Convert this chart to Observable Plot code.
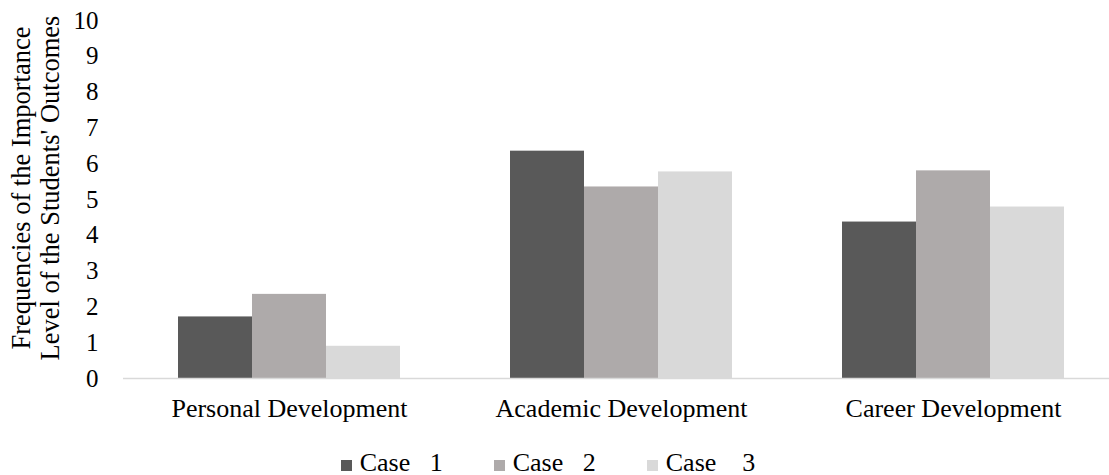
<!DOCTYPE html>
<html>
<head>
<meta charset="utf-8">
<script src="https://cdn.jsdelivr.net/npm/d3@7"></script>
<script src="https://cdn.jsdelivr.net/npm/@observablehq/plot@0.6"></script>
<style>
  html, body { margin: 0; padding: 0; background: #fff; }
  #chart { position: relative; width: 1109px; height: 475px; font-family: "Liberation Serif", "Times New Roman", serif; color: #000; }
  #plot svg, #plot svg text { font-family: "Liberation Serif", "Times New Roman", serif !important; font-size: 25px !important; }
  #plot svg [aria-label="fx-axis tick label"] text { font-size: 26px !important; }
  #ytitle {
    position: absolute; left: 36px; top: 188px; width: 440px;
    transform: translate(-50%, -50%) rotate(-90deg);
    text-align: center; font-size: 26.5px; line-height: 29px; white-space: nowrap;
  }
  #legend {
    position: absolute; top: 449px; left: 0; width: 1096px; padding-right: 13px;
    display: flex; justify-content: center; gap: 51px; font-size: 26px; line-height: 28px;
  }
  #legend .item { display: flex; align-items: center; white-space: pre; }
  #legend .sw { display: inline-block; width: 11px; height: 11px; margin-right: 8px; margin-top: 5px; }
</style>
</head>
<body>
<div id="chart">
  <div id="plot"></div>
  <div id="ytitle"></div>
  <div id="legend"></div>
</div>
<script>
// Outcome areas (groups along the x axis)
const categories = ["Personal Development", "Academic Development", "Career Development"];
// The three cases, one bar each per area
const cases = ["Case 1", "Case 2", "Case 3"];
// Legend wording, as typeset (word, spacing, number)
const caseLegend = ["Case   1", "Case   2", "Case    3"];
// Frequencies per case, in category order
const case1 = [1.72, 6.35, 4.37];
const case2 = [2.35, 5.35, 5.8];
const case3 = [0.9, 5.77, 4.79];
const yTicks = [0, 1, 2, 3, 4, 5, 6, 7, 8, 9, 10];
const yTitleLines = ["Frequencies of the Importance", "Level of the Students' Outcomes"];
const colors = ["#595959", "#aeaaaa", "#d9d9d9"];

const series = [case1, case2, case3];
const rows = [];
categories.forEach((c, i) => {
  cases.forEach((k, j) => rows.push({category: c, case: k, value: series[j][i]}));
});

const chart = Plot.plot({
  width: 1109,
  height: 440,
  marginLeft: 123,
  marginRight: -10,
  marginTop: 20,
  marginBottom: 62,
  style: {background: "#fff", color: "#000"},
  fx: {domain: categories, paddingInner: 0, paddingOuter: 0, axis: "bottom", label: null, tickSize: 0, tickPadding: 20},
  x: {domain: cases, paddingInner: 0, paddingOuter: 0.743, axis: null},
  y: {domain: [0, 10], ticks: yTicks, tickSize: 0, tickPadding: 25, label: null, tickFormat: d3.format("d")},
  color: {domain: cases, range: colors},
  marks: [
    Plot.barY(rows, {fx: "category", x: "case", y: "value", fill: "case", inset: 0}),
    Plot.ruleY([0], {stroke: "#d9d9d9", strokeWidth: 1.5})
  ]
});
document.getElementById("plot").appendChild(chart);

document.getElementById("ytitle").innerHTML = yTitleLines.join("<br>");

const legend = document.getElementById("legend");
cases.forEach((k, i) => {
  const item = document.createElement("span");
  item.className = "item";
  const sw = document.createElement("span");
  sw.className = "sw";
  sw.style.background = colors[i];
  item.appendChild(sw);
  item.appendChild(document.createTextNode(caseLegend[i]));
  legend.appendChild(item);
});
</script>
</body>
</html>
